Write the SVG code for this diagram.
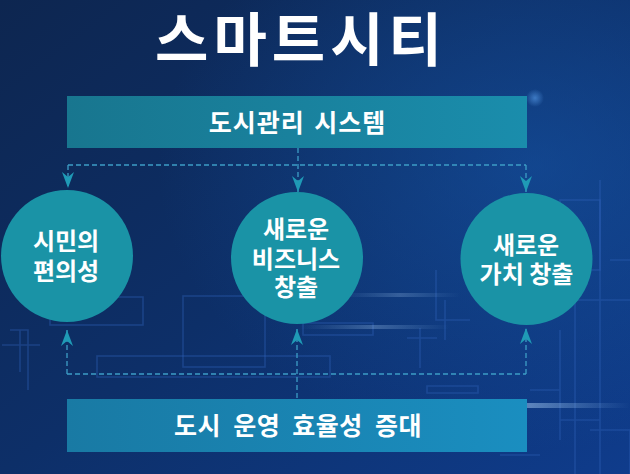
<svg xmlns="http://www.w3.org/2000/svg" width="630" height="474" viewBox="0 0 630 474">
  <style>
    .t { font-family: "Noto Sans CJK KR", "Noto Sans", sans-serif; font-weight: 700; fill: #ffffff; text-anchor: middle; }
    .ct { font-size: 24px; }
    .bt { font-size: 25px; }
    .dash { fill: none; stroke: #3d9dc6; stroke-width: 1.3; stroke-dasharray: 5 3; }
    .circ { fill: #1a93a6; }
    .cl { fill: none; stroke: #2f62b8; stroke-width: 1.6; opacity: 0.4; }
  </style>
  <defs>
    <linearGradient id="bg" x1="0" y1="0" x2="1" y2="1">
      <stop offset="0" stop-color="#0d2650"/>
      <stop offset="0.5" stop-color="#0d2f68"/>
      <stop offset="1" stop-color="#0f3c8c"/>
    </linearGradient>
    <radialGradient id="glowR" cx="0.85" cy="0.35" r="0.6">
      <stop offset="0" stop-color="#1656a8" stop-opacity="0.55"/>
      <stop offset="1" stop-color="#1656a8" stop-opacity="0"/>
    </radialGradient>
    <radialGradient id="dot">
      <stop offset="0" stop-color="#5aa0ee" stop-opacity="0.6"/>
      <stop offset="1" stop-color="#5aa0ee" stop-opacity="0"/>
    </radialGradient>
    <linearGradient id="topbox" x1="0" y1="0" x2="1" y2="0">
      <stop offset="0" stop-color="#18768f"/>
      <stop offset="1" stop-color="#1a8dac"/>
    </linearGradient>
    <linearGradient id="botbox" x1="0" y1="0" x2="1" y2="0">
      <stop offset="0" stop-color="#197aa4"/>
      <stop offset="1" stop-color="#1a8ec0"/>
    </linearGradient>
    <linearGradient id="streak" x1="0" y1="0" x2="1" y2="0">
      <stop offset="0" stop-color="#9fd0ff" stop-opacity="0"/>
      <stop offset="0.5" stop-color="#b8dcff" stop-opacity="0.45"/>
      <stop offset="1" stop-color="#9fd0ff" stop-opacity="0"/>
    </linearGradient>
    <marker id="arr" markerUnits="userSpaceOnUse" markerWidth="16" markerHeight="12" viewBox="0 0 16 12" refX="16" refY="6" orient="auto">
      <path d="M0,0 L16,6 L0,12 L5,6 Z" fill="#1f9ab6"/>
    </marker>
  </defs>

  <!-- background -->
  <rect x="0" y="0" width="630" height="474" fill="url(#bg)"/>
  <rect x="0" y="0" width="630" height="474" fill="url(#glowR)"/>
  <g id="circuit">
    <rect class="cl" x="50" y="297" width="93" height="28"/>
    <rect class="cl" x="183" y="296" width="82" height="71"/>
    <rect class="cl" x="97" y="356" width="233" height="21"/>
    <rect class="cl" x="303" y="323" width="70" height="12"/>
    <path class="cl" d="M10,330 H28 V390 M20,330 V372 M2,345 H40"/>
    <path class="cl" d="M407,338 H437 M420,328 V368 M427,386 H478 V393 H427 Z"/>
    <path class="cl" d="M436,270 V320 H470 M445,300 V340"/>
    <rect class="cl" x="560" y="200" width="40" height="70"/>
    <path class="cl" d="M600,180 V474 M575,240 V474 M545,300 H630 M560,330 V420 H600 M610,260 H630 M530,390 H560 V440 M590,430 H630 V474"/>
    <path class="cl" d="M495,400 H520 V440 M470,410 V450 M500,455 H540"/>
  </g>
  <rect x="430" y="403" width="200" height="5" fill="url(#streak)"/>
  <rect x="300" y="325" width="150" height="4" fill="url(#streak)" opacity="0.6"/>
  <rect x="340" y="293" width="120" height="4" fill="url(#streak)" opacity="0.5"/>
  <circle cx="535" cy="98" r="9" fill="url(#dot)"/>

  <!-- title -->
  <text id="title" class="t" x="301" y="61" font-size="58" letter-spacing="5">스마트시티</text>

  <!-- connectors -->
  <g id="connectors">
    <path class="dash" d="M298,148 V192" marker-end="url(#arr)"/>
    <path class="dash" d="M68,165 H526"/>
    <path class="dash" d="M68,165 V188" marker-end="url(#arr)"/>
    <path class="dash" d="M526,165 V192" marker-end="url(#arr)"/>
    <path class="dash" d="M297,398 V329" marker-end="url(#arr)"/>
    <path class="dash" d="M67,374 H526"/>
    <path class="dash" d="M67,374 V330" marker-end="url(#arr)"/>
    <path class="dash" d="M526,374 V328" marker-end="url(#arr)"/>
  </g>

  <!-- nodes -->
  <g id="node-system">
    <rect x="67" y="96" width="460" height="52" fill="url(#topbox)"/>
    <text class="t bt" x="297.5" y="132" letter-spacing="1" word-spacing="3">도시관리 시스템</text>
  </g>

  <g id="node-citizen">
    <circle class="circ" cx="67" cy="256" r="66"/>
    <text class="t ct" x="66" y="250">시민의<tspan x="66" dy="30">편의성</tspan></text>
  </g>

  <g id="node-business">
    <circle class="circ" cx="297" cy="258" r="66"/>
    <text class="t ct" x="296" y="238">새로운<tspan x="296" dy="30">비즈니스</tspan><tspan x="296" dy="28">창출</tspan></text>
  </g>

  <g id="node-value">
    <circle class="circ" cx="526.5" cy="259" r="66"/>
    <text class="t ct" x="526" y="254">새로운<tspan x="526.5" dy="29">가치 창출</tspan></text>
  </g>

  <g id="node-efficiency">
    <rect x="67" y="399" width="460" height="53" fill="url(#botbox)"/>
    <text class="t bt" x="298" y="435" letter-spacing="0.5" word-spacing="6">도시 운영 효율성 증대</text>
  </g>
</svg>
